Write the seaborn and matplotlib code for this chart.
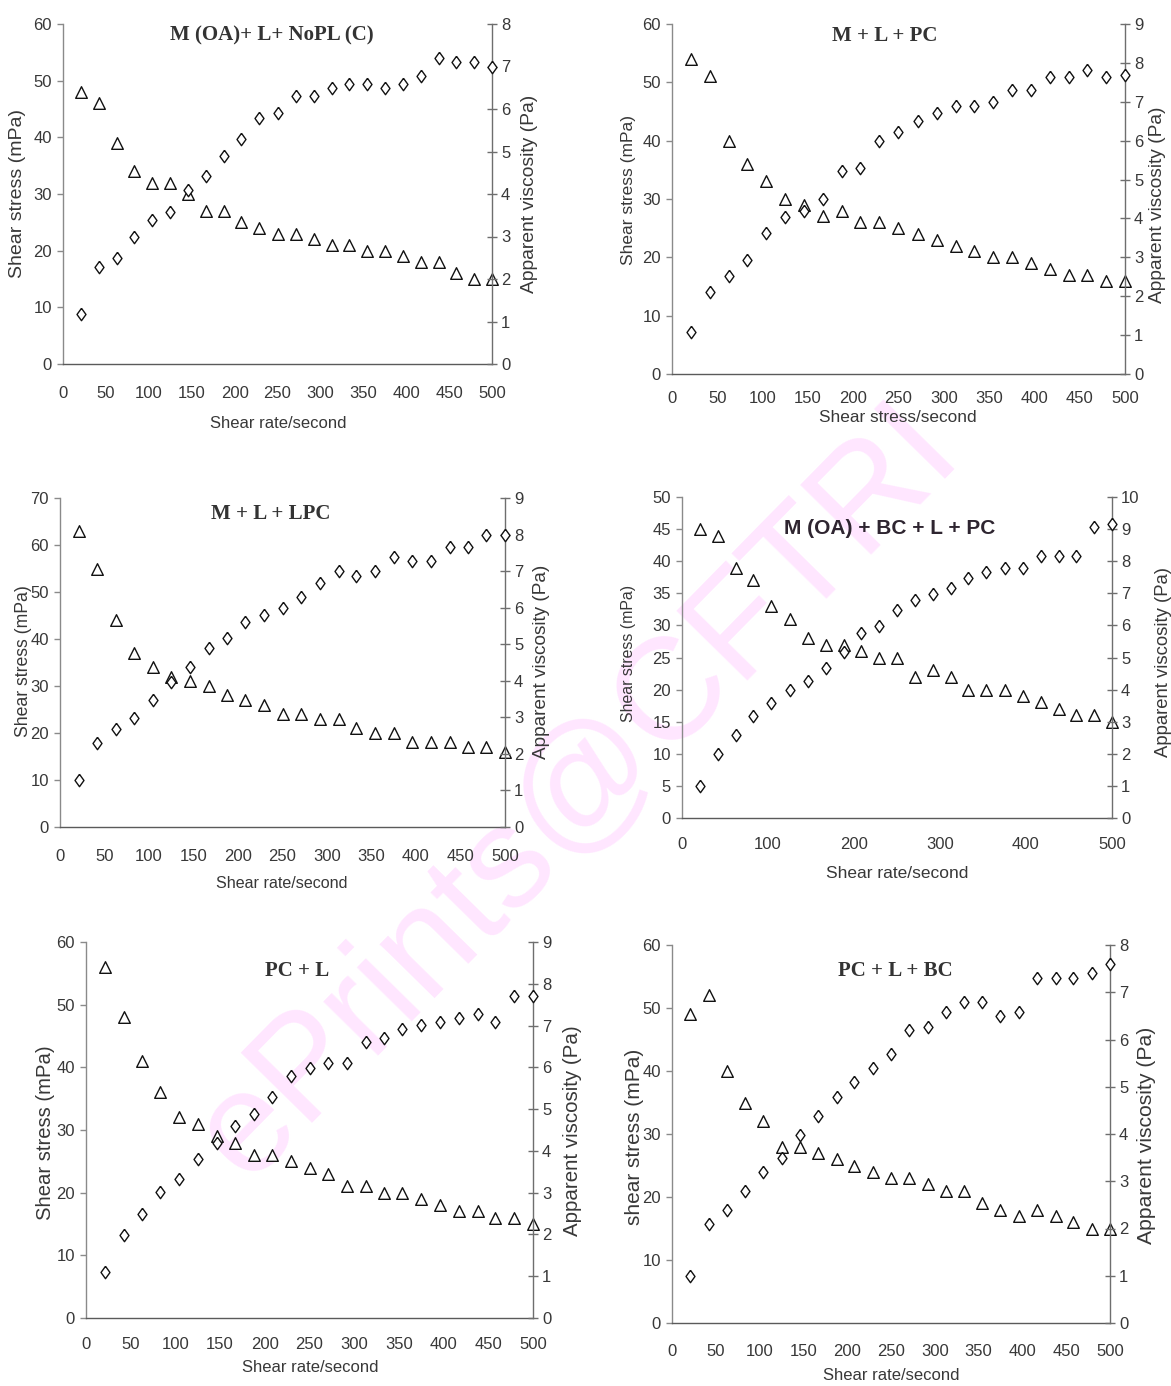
import matplotlib
matplotlib.use("Agg")
import matplotlib.pyplot as plt
import seaborn as sns

# ---- measured data -------------------------------------------------------
shear_rate = [21, 42, 63, 83, 104, 125, 146, 167, 188, 208, 229, 250,
              271, 292, 313, 333, 354, 375, 396, 417, 438, 458, 479, 500]

# shear stress (mPa, left axis, triangles)
stress_oa_nopl = [48, 46, 39, 34, 32, 32, 30, 27, 27, 25, 24, 23,
                  23, 22, 21, 21, 20, 20, 19, 18, 18, 16, 15, 15]
stress_m_l_pc = [54, 51, 40, 36, 33, 30, 29, 27, 28, 26, 26, 25,
                 24, 23, 22, 21, 20, 20, 19, 18, 17, 17, 16, 16]
stress_m_l_lpc = [63, 55, 44, 37, 34, 32, 31, 30, 28, 27, 26, 24,
                  24, 23, 23, 21, 20, 20, 18, 18, 18, 17, 17, 16]
stress_oa_bc_l_pc = [45, 44, 39, 37, 33, 31, 28, 27, 27, 26, 25, 25,
                     22, 23, 22, 20, 20, 20, 19, 18, 17, 16, 16, 15]
stress_pc_l = [56, 48, 41, 36, 32, 31, 29, 28, 26, 26, 25, 24,
               23, 21, 21, 20, 20, 19, 18, 17, 17, 16, 16, 15]
stress_pc_l_bc = [49, 52, 40, 35, 32, 28, 28, 27, 26, 25, 24, 23,
                  23, 22, 21, 21, 19, 18, 17, 18, 17, 16, 15, 15]

# apparent viscosity (Pa, right axis, diamonds)
visc_oa_nopl = [1.18, 2.29, 2.5, 3.0, 3.39, 3.58, 4.1, 4.42, 4.9, 5.3, 5.8, 5.9,
                6.3, 6.3, 6.5, 6.6, 6.6, 6.5, 6.6, 6.78, 7.2, 7.1, 7.1, 7.0]
visc_m_l_pc = [1.09, 2.12, 2.52, 2.93, 3.63, 4.04, 4.18, 4.49, 5.22, 5.29, 6.0, 6.21,
               6.5, 6.71, 6.9, 6.9, 7.0, 7.29, 7.29, 7.63, 7.63, 7.81, 7.63, 7.7]
visc_m_l_lpc = [1.29, 2.29, 2.69, 2.99, 3.48, 3.98, 4.39, 4.9, 5.18, 5.6, 5.8, 5.99,
                6.28, 6.67, 7.0, 6.87, 7.0, 7.39, 7.27, 7.27, 7.67, 7.67, 7.99, 7.99]
visc_oa_bc_l_pc = [1.0, 1.99, 2.59, 3.19, 3.58, 3.98, 4.28, 4.68, 5.17, 5.77, 5.98, 6.48,
                   6.78, 6.98, 7.18, 7.48, 7.67, 7.78, 7.78, 8.17, 8.17, 8.17, 9.07, 9.16]
visc_pc_l = [1.11, 1.99, 2.5, 3.02, 3.33, 3.8, 4.19, 4.6, 4.88, 5.3, 5.8, 5.98,
             6.1, 6.1, 6.6, 6.71, 6.91, 7.02, 7.09, 7.19, 7.27, 7.09, 7.71, 7.71]
visc_pc_l_bc = [0.99, 2.09, 2.4, 2.8, 3.19, 3.49, 3.98, 4.39, 4.79, 5.11, 5.39, 5.69,
                6.21, 6.27, 6.58, 6.8, 6.8, 6.49, 6.58, 7.31, 7.31, 7.31, 7.41, 7.6]

titles = ["M (OA)+ L+ NoPL (C)", "M + L + PC", "M + L + LPC",
          "M (OA) + BC + L + PC", "PC + L", "PC + L + BC"]
x_labels = ["Shear rate/second", "Shear stress/second", "Shear rate/second",
            "Shear rate/second", "Shear rate/second", "Shear rate/second"]
left_labels = ["Shear stress (mPa)"] * 5 + ["shear stress (mPa)"]
right_label = "Apparent viscosity (Pa)"
watermark = "ePrints@CFTRI"

stress_sets = [stress_oa_nopl, stress_m_l_pc, stress_m_l_lpc,
               stress_oa_bc_l_pc, stress_pc_l, stress_pc_l_bc]
visc_sets = [visc_oa_nopl, visc_m_l_pc, visc_m_l_lpc,
             visc_oa_bc_l_pc, visc_pc_l, visc_pc_l_bc]

# ---- layout (pixel coordinates of a 1171 x 1386 canvas) ------------------
W, H = 1171, 1386
layout = [
    dict(box=(63, 492, 24, 364), ymax=60, ystep=10, y2max=8, xstep=50, xpad=11,
         title=(272, 35, "serif"), xl=(278, 424, 12), yl=(18, 193, 14), yr=(530, 194, 13.9)),
    dict(box=(672, 1125, 24, 374), ymax=60, ystep=10, y2max=9, xstep=50, xpad=7,
         title=(885, 36, "serif"), xl=(898, 418, 12.4), yl=(628, 190, 12.5), yr=(1157, 205, 13.8)),
    dict(box=(60, 505, 498, 827), ymax=70, ystep=10, y2max=9, xstep=50, xpad=11,
         title=(271, 514, "serif"), xl=(282, 883, 11.6), yl=(24, 661, 12.7), yr=(542, 662, 13.7)),
    dict(box=(682, 1112, 497, 818), ymax=50, ystep=5, y2max=10, xstep=100, xpad=9,
         title=(890, 529, "sans"), xl=(897, 874, 12.5), yl=(629, 653, 11.4), yr=(1163, 662, 13.3)),
    dict(box=(86, 533, 942, 1318), ymax=60, ystep=10, y2max=9, xstep=50, xpad=9,
         title=(297, 971, "serif"), xl=(310, 1368, 12), yl=(46, 1133, 14.6), yr=(572, 1131, 14.8)),
    dict(box=(672, 1110, 945, 1323), ymax=60, ystep=10, y2max=8, xstep=50, xpad=10,
         title=(895, 971, "serif"), xl=(891, 1375, 12), yl=(635, 1137, 15), yr=(1147, 1135, 15.2)),
]

sns.set_style("white")
SANS = ["Liberation Sans", "DejaVu Sans"]
SERIF = ["Liberation Serif", "DejaVu Serif"]
plt.rcParams["font.family"] = SANS

TEXT = "#383838"
SPINE_L = "#8a8a8a"
SPINE_B = "#5a5a5a"
SPINE_R = "#6e6e6e"

fig = plt.figure(figsize=(W / 100, H / 100), dpi=100)
fig.patch.set_facecolor("white")


def fx(px):
    return px / W


def fy(py):
    return 1 - py / H


# faint diagonal watermark behind the panels
fig.text(fx(578), fy(792), watermark, rotation=45.5, rotation_mode="anchor",
         ha="center", va="center", fontsize=104, color="#ffe6ff",
         family=SANS, zorder=-1)

diamond = [(0, 1), (0.72, 0), (0, -1), (-0.72, 0), (0, 1)]

for i, cfg in enumerate(layout):
    x0, x1, yt, yb = cfg["box"]
    ax = fig.add_axes([fx(x0), fy(yb), (x1 - x0) / W, (yb - yt) / H])
    ax.patch.set_alpha(0)
    ax2 = ax.twinx()
    ax2.patch.set_alpha(0)

    sns.scatterplot(x=shear_rate, y=stress_sets[i], ax=ax, marker="^", s=70,
                    color="white", edgecolor="#111111", linewidth=1.0,
                    clip_on=False, zorder=3, legend=False)
    sns.scatterplot(x=shear_rate, y=visc_sets[i], ax=ax2, marker=diamond, s=80,
                    color="white", edgecolor="#111111", linewidth=1.0,
                    clip_on=False, zorder=4, legend=False)

    ax.set_xlim(0, 500)
    ax.set_ylim(0, cfg["ymax"])
    ax2.set_ylim(0, cfg["y2max"])
    ax.set_xticks(range(0, 501, cfg["xstep"]))
    ax.set_yticks(range(0, cfg["ymax"] + 1, cfg["ystep"]))
    ax2.set_yticks(range(0, cfg["y2max"] + 1, 1))
    ax.set_xlabel("")
    ax.set_ylabel("")
    ax2.set_ylabel("")

    ax.spines["top"].set_visible(False)
    ax2.spines["top"].set_visible(False)
    ax.spines["right"].set_visible(False)
    ax2.spines["left"].set_visible(False)
    ax2.spines["bottom"].set_visible(False)
    ax.spines["left"].set_color(SPINE_L)
    ax.spines["bottom"].set_color(SPINE_B)
    ax2.spines["right"].set_color(SPINE_R)
    for sp in (ax.spines["left"], ax.spines["bottom"], ax2.spines["right"]):
        sp.set_linewidth(1.0)

    ax.tick_params(axis="x", direction="out", length=5, width=1.0, color=SPINE_B,
                   labelcolor=TEXT, labelsize=12, pad=cfg["xpad"])
    ax.tick_params(axis="y", direction="out", length=4, width=1.0, color=SPINE_L,
                   labelcolor=TEXT, labelsize=12, pad=4)
    ax2.tick_params(axis="y", direction="inout", length=7, width=1.0, color=SPINE_R,
                    labelcolor=TEXT, labelsize=12, pad=3)

    tx, ty, tf = cfg["title"]
    if tf == "serif":
        fig.text(fx(tx), fy(ty), titles[i], ha="center", va="center",
                 fontsize=15, fontweight="bold", family=SERIF, color="#333333")
    else:
        fig.text(fx(tx), fy(ty), titles[i], ha="center", va="center",
                 fontsize=15, fontweight="bold", family=SANS, color="#2e2530")

    lx, ly, ls = cfg["xl"]
    fig.text(fx(lx), fy(ly), x_labels[i], ha="center", va="center",
             fontsize=ls, color=TEXT)
    lx, ly, ls = cfg["yl"]
    fig.text(fx(lx), fy(ly), left_labels[i], ha="center", va="center",
             rotation=90, fontsize=ls, color=TEXT)
    lx, ly, ls = cfg["yr"]
    fig.text(fx(lx), fy(ly), right_label, ha="center", va="center",
             rotation=90, fontsize=ls, color=TEXT)

fig.savefig("out.png", dpi=100, facecolor="white")
